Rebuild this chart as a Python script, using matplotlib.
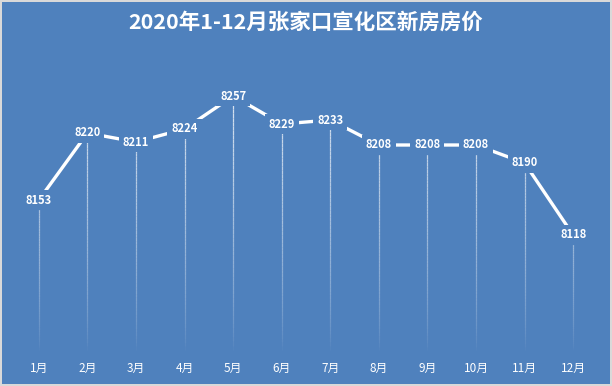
import numpy as np
import matplotlib
matplotlib.use("Agg")
import matplotlib.pyplot as plt
from matplotlib.collections import LineCollection

plt.rcParams['font.family'] = ['Noto Sans CJK SC', 'DejaVu Sans']

months = ["1月", "2月", "3月", "4月", "5月", "6月", "7月", "8月", "9月", "10月", "11月", "12月"]
prices = [8153, 8220, 8211, 8224, 8257, 8229, 8233, 8208, 8208, 8208, 8190, 8118]
title = "2020年1-12月张家口宣化区新房房价"

bg = "#4F81BD"
fig = plt.figure(figsize=(6.12, 3.86), dpi=100)
fig.patch.set_facecolor(bg)
fig.patch.set_edgecolor("#D9D9D9")
fig.patch.set_linewidth(1.5)

ax = fig.add_axes([0, 31 / 386, 1, 355 / 386])
ax.patch.set_visible(False)
for s in ax.spines.values():
    s.set_visible(False)

x = np.arange(len(months))
ax.set_xlim(-0.80, 11.80)
y_bottom, y_top = 7998, 8353
ax.set_ylim(y_bottom, y_top)

# drop lines with fading gradient
fade_end = 8003
fade_top = 8265
segs, cols = [], []
for xi, v in zip(x, prices):
    ys = np.linspace(v, fade_end, 60)
    for a, b in zip(ys[:-1], ys[1:]):
        segs.append([(xi, a), (xi, b)])
        m = (a + b) / 2
        alpha = np.clip((m - fade_end) / (fade_top - fade_end), 0, 1) ** 0.7 * 0.8
        cols.append((1, 1, 1, alpha))
ax.add_collection(LineCollection(segs, colors=cols, linewidths=0.9, zorder=1))

ax.plot(x, prices, color="white", linewidth=2.4, solid_capstyle="butt", zorder=2)

for xi, v in zip(x, prices):
    ax.text(xi, v, f"{v}", ha="center", va="center", color="white",
            fontsize=8, fontweight="bold", zorder=3,
            bbox=dict(boxstyle="square,pad=0.35", facecolor=bg, edgecolor="none"))

ax.set_yticks([])
ax.set_xticks(x)
ax.set_xticklabels(months, color="white", fontsize=8.5)
ax.tick_params(axis="x", length=0, pad=5)

fig.text(0.5, 1 - 22 / 386, title, ha="center", va="center", color="white",
         fontsize=15.5, fontweight="bold")

fig.savefig("out.png", dpi=100, facecolor=bg, edgecolor="#D9D9D9")
